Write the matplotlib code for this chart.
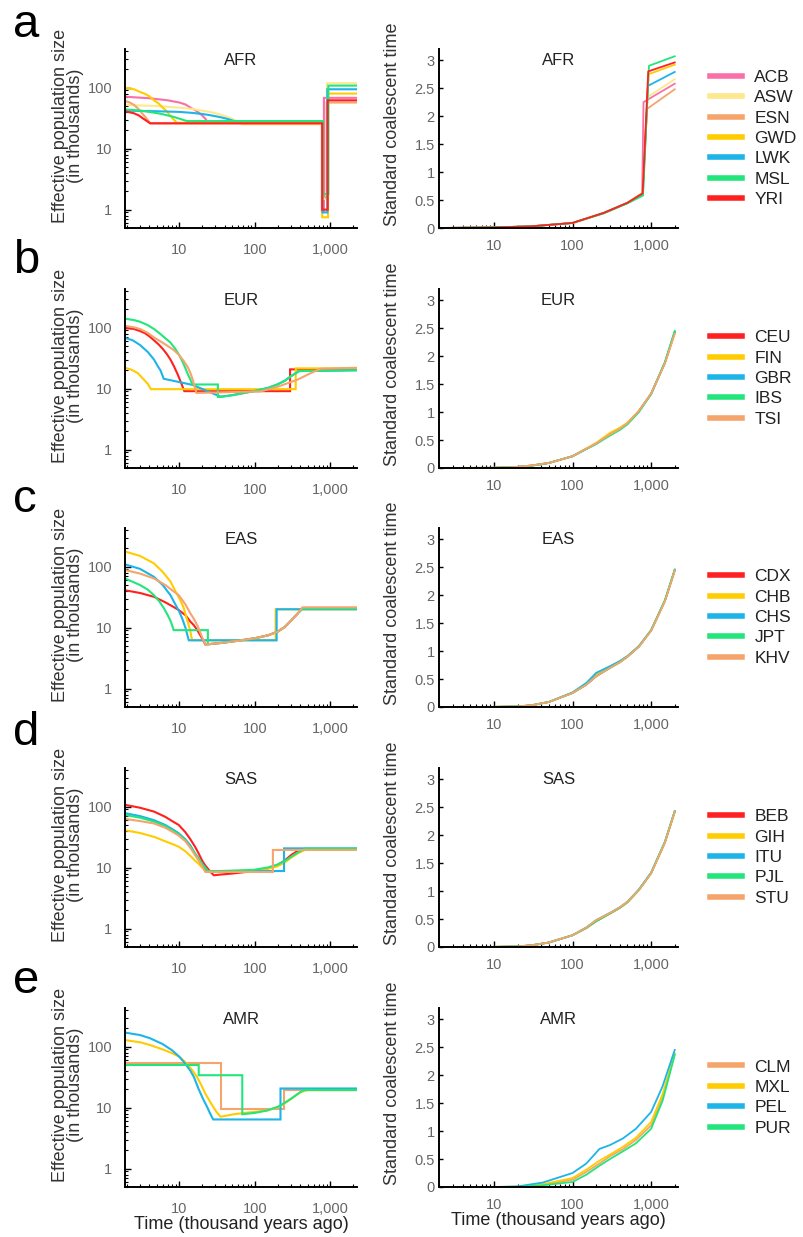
import matplotlib.pyplot as plt
import matplotlib.ticker as mticker

plt.rcParams['font.family'] = ['Liberation Sans', 'DejaVu Sans']

RED = '#ff2020'
GOLD = '#ffcc00'
BLUE = '#1db4e8'
GREEN = '#22e67c'
ORANGE = '#f5a46c'
PINK = '#fb6fa8'
PALE = '#fde98b'

# ---- effective population size (time kya, Ne in thousands) ----
AFR_NE = {
    "ACB": ([1.9, 4, 7, 10, 12, 14, 16, 18, 20, 22, 24, 770, 770, 820, 820, 2250],
            [71, 67, 62, 57, 53, 47, 43, 39, 35, 31, 26.5, 26.5, 0.95, 0.95, 68, 68]),
    "ASW": ([1.9, 5, 10, 15, 20, 28, 35, 42, 50, 58, 68, 780, 780, 900, 900, 2250],
            [52, 50, 47, 44.5, 42, 39, 36, 33.5, 31, 28, 25, 25, 1.5, 1.5, 118, 118]),
    "ESN": ([1.9, 2.2, 2.5, 2.8, 3.2, 3.6, 4.1, 775, 775, 890, 890, 2250],
            [60, 57, 52, 46, 38, 32, 26, 26, 1.6, 1.6, 57, 57]),
    "GWD": ([1.9, 2.5, 3, 3.5, 4, 4.6, 5.3, 6, 6.8, 7.5, 8.4, 9.3, 780, 780, 930, 930, 2250],
            [100, 94, 85, 79, 72, 62, 55, 47, 41, 35, 30, 26.5, 26.5, 0.75, 0.75, 80, 80]),
    "LWK": ([1.9, 5, 10, 15, 20, 25, 30, 36, 42, 48, 53, 785, 785, 910, 910, 2250],
            [42, 41, 40, 38.5, 37, 35.5, 34, 32.5, 31, 29.5, 28.3, 28.3, 0.9, 0.9, 94, 94]),
    "MSL": ([1.9, 3, 4, 5.5, 7, 8.5, 10, 11.3, 12.6, 790, 790, 940, 940, 2250],
            [44, 42, 40, 37.5, 35, 33, 31, 29.5, 28.3, 28.3, 1.8, 1.8, 108, 108]),
    "YRI": ([1.9, 2.5, 2.9, 3.2, 3.6, 4.1, 780, 780, 920, 920, 2250],
            [41, 38, 35, 32, 29, 26, 26, 1.0, 1.0, 62, 62]),
}
EUR_NE = {
    "CEU": ([1.9, 2.5, 3, 3.5, 4, 4.6, 5.3, 6, 6.8, 7.6, 8.5, 9.5, 10.5, 11.6, 292, 292, 2250],
            [100, 95, 88, 81, 72, 62, 53, 45, 37, 30, 23, 17, 12.5, 9.1, 9.1, 20.7, 20.7]),
    "FIN": ([1.9, 2.3, 2.8, 3.3, 3.8, 4.2, 347, 347, 2250],
            [22, 20.5, 18, 14.5, 12, 9.8, 9.8, 21.5, 21.5]),
    "GBR": ([1.9, 2.4, 3, 3.8, 4.6, 5.2, 5.6, 6.2, 15, 30, 35, 50, 97, 150, 198, 250, 300, 385, 2250],
            [68, 62, 52, 40, 30, 23, 20, 14.5, 11.5, 8.0, 7.4, 7.8, 9.1, 10.3, 11.7, 13.5, 16, 19.4, 20]),
    "IBS": ([1.9, 2.5, 3, 3.8, 4.6, 5.5, 6.5, 7.6, 8.8, 10, 11.4, 13, 14, 14.8, 32.3, 32.3,
             35, 50, 97, 150, 198, 250, 300, 385, 2250],
            [140, 133, 125, 110, 95, 80, 67, 57, 45, 35, 25, 17, 14, 11.7, 11.7, 7.3,
             7.3, 7.8, 9.1, 10.3, 11.7, 13.5, 16, 19.4, 20]),
    "TSI": ([1.9, 2.5, 3, 3.8, 4.6, 5.8, 7, 8.4, 9.8, 11.5, 13, 14, 15, 16, 16.8,
             119, 198, 365, 550, 740, 2250],
            [107, 101, 95, 82, 69, 58, 50, 43, 36, 28, 22, 18, 14, 10.5, 8.5,
             9.0, 10.7, 14, 18, 21.2, 22]),
}
EAS_NE = {
    "CDX": ([1.9, 3, 4.6, 6.5, 8, 9.8, 12, 14, 15.5, 17.5, 19.5, 22,
             35, 60, 100, 150, 200, 250, 300, 360, 427, 2250],
            [41, 37, 32, 26, 22.5, 19.4, 16, 12.5, 11, 8.8, 7, 5.3,
             5.6, 6.1, 6.7, 7.5, 8.6, 10.3, 13, 16.5, 21, 21]),
    "CHB": ([1.9, 3, 4.6, 6, 7.6, 9, 10.3, 11.4, 12.3, 13, 14, 14.7, 188, 188, 2250],
            [177, 150, 113, 82, 57, 38, 28, 21, 15, 12, 8.5, 6.2, 6.2, 20, 20]),
    "CHS": ([1.9, 3, 4.6, 6, 7.6, 9, 10, 10.9, 12, 13.3, 194, 194, 2250],
            [109, 92, 68, 50, 34, 23, 18, 14, 10, 6.2, 6.2, 20, 20]),
    "JPT": ([1.9, 3, 3.8, 4.6, 5.4, 6.2, 7, 7.7, 8.4, 23.8, 23.8,
             35, 60, 100, 150, 200, 250, 300, 360, 427, 2250],
            [64, 50, 42, 34, 27, 21, 16, 12.5, 9.1, 9.1, 5.3,
             5.6, 6.1, 6.7, 7.5, 8.6, 10.3, 13, 16.5, 20.5, 20.5]),
    "KHV": ([1.9, 3, 4.6, 6.5, 8, 9.8, 12, 14, 15.5, 17.5, 19.5, 22,
             35, 60, 100, 150, 200, 250, 300, 360, 427, 2250],
            [88, 77, 64, 50, 41, 34, 24, 17, 14, 10.5, 7.5, 5.3,
             5.6, 6.1, 6.7, 7.5, 8.6, 10.3, 13, 16.5, 21.5, 21.5]),
}
SAS_NE = {
    "BEB": ([1.9, 3, 4.6, 6.5, 8, 9.8, 12, 14, 16.1, 18, 20, 21.8, 24, 26, 28.6,
             35, 50, 97, 150, 198, 250, 300, 360, 427, 2250],
            [107, 96, 83, 68, 58, 50, 38, 29, 22, 17, 13, 11, 9.5, 8.4, 7.5,
             7.7, 8.0, 8.8, 9.8, 11, 13.2, 16, 18.5, 20, 20]),
    "GIH": ([1.9, 3, 4.6, 6.5, 8, 9.8, 12, 14, 16.1, 18, 20, 23.8,
             35, 97, 150, 198, 250, 300, 380, 460, 2250],
            [41, 37, 32, 27, 24.5, 22, 18.5, 15.5, 13, 11.5, 10, 8.5,
             8.5, 8.9, 9.6, 10.5, 12.2, 14.5, 17.5, 19.5, 19.5]),
    "ITU": ([1.9, 3, 4.6, 6.5, 8, 9.8, 12, 14, 16.1, 18, 20, 22.8, 243, 243, 2250],
            [78, 70, 60, 50, 43, 36.5, 29, 23, 17, 14, 11.5, 8.8, 8.8, 20.7, 20.7]),
    "PJL": ([1.9, 3, 4.6, 6.5, 8, 9.8, 12, 14, 16.1, 18, 20, 24,
             35, 97, 150, 198, 250, 300, 380, 460, 2250],
            [73, 66, 57, 48, 41, 35, 28, 22, 17, 14, 11.5, 8.8,
             8.8, 9.2, 10.1, 11.2, 12.9, 15, 18, 20.5, 20.5]),
    "STU": ([1.9, 3, 4.6, 6.5, 8, 9.8, 12, 14, 16.1, 18, 20, 22, 173, 173, 2250],
            [63, 58, 53, 45, 39, 33.5, 27, 21, 16, 13, 10.5, 8.5, 8.5, 19.5, 19.5]),
}
AMR_NE = {
    "CLM": ([1.9, 35, 35, 243, 243, 2250],
            [54.5, 54.5, 9.6, 9.6, 19.3, 19.3]),
    "MXL": ([1.9, 3, 4.1, 6, 8, 10, 12.5, 15, 17, 19, 22, 25, 28, 31, 35,
             53, 80, 146, 200, 243, 300, 350, 403, 500, 2250],
            [128, 118, 106, 90, 78, 68, 53, 40, 32, 25, 17, 13, 10.3, 8.5, 7.1,
             7.8, 8.3, 9.0, 10.2, 11.6, 13.8, 16, 18, 19.3, 19.3]),
    "PEL": ([1.9, 3, 4.1, 6, 8, 10, 12, 14, 15.5, 18, 20.5, 23.3, 25.5, 28, 218, 218, 2250],
            [170, 155, 137, 110, 87, 68, 52, 40, 32, 20, 14, 10.2, 8, 6.4, 6.4, 20.6, 20.6]),
    "PUR": ([1.9, 18, 18, 68, 68, 100, 146, 200, 243, 300, 350, 400, 450, 2250],
            [50, 50, 34, 34, 7.8, 8.2, 9.0, 10.3, 11.8, 14, 16, 18, 19.5, 19.5]),
}

# ---- standard coalescent time (time kya, tau) ----
AFR_TAU = {
    "ACB": ([2, 10, 30, 100, 250, 500, 770, 800, 2000], [0, 0.01, 0.03, 0.09, 0.27, 0.45, 0.62, 2.25, 2.58]),
    "ASW": ([2, 10, 30, 100, 250, 500, 780, 900, 2000], [0, 0.01, 0.03, 0.09, 0.27, 0.45, 0.62, 2.34, 2.66]),
    "ESN": ([2, 10, 30, 100, 250, 500, 775, 890, 2000], [0, 0.01, 0.03, 0.09, 0.27, 0.45, 0.62, 2.13, 2.48]),
    "GWD": ([2, 10, 30, 100, 250, 500, 780, 930, 2000], [0, 0.01, 0.03, 0.09, 0.27, 0.45, 0.62, 2.75, 2.92]),
    "LWK": ([2, 10, 30, 100, 250, 500, 785, 910, 2000], [0, 0.01, 0.03, 0.09, 0.27, 0.45, 0.60, 2.54, 2.79]),
    "MSL": ([2, 10, 30, 100, 250, 500, 790, 940, 2000], [0, 0.01, 0.03, 0.09, 0.26, 0.44, 0.58, 2.90, 3.07]),
    "YRI": ([2, 10, 30, 100, 250, 500, 780, 920, 2000], [0, 0.01, 0.03, 0.09, 0.27, 0.45, 0.62, 2.80, 2.96]),
}
EUR_T = [2, 10, 20, 30, 50, 100, 200, 300, 400, 500, 700, 1000, 1500, 2000]
EUR_TAU = {
    "CEU": (EUR_T, [0, 0.003, 0.02, 0.045, 0.09, 0.21, 0.44, 0.60, 0.70, 0.80, 1.02, 1.33, 1.88, 2.42]),
    "FIN": (EUR_T, [0, 0.004, 0.02, 0.045, 0.09, 0.21, 0.45, 0.63, 0.72, 0.81, 1.02, 1.33, 1.88, 2.41]),
    "GBR": (EUR_T, [0, 0.003, 0.02, 0.04, 0.09, 0.21, 0.43, 0.59, 0.69, 0.79, 1.01, 1.32, 1.89, 2.44]),
    "IBS": (EUR_T, [0, 0.003, 0.02, 0.04, 0.09, 0.21, 0.43, 0.58, 0.68, 0.78, 1.00, 1.32, 1.89, 2.45]),
    "TSI": (EUR_T, [0, 0.003, 0.02, 0.045, 0.09, 0.21, 0.44, 0.60, 0.70, 0.80, 1.02, 1.33, 1.87, 2.40]),
}
EAS_T = [2, 10, 20, 30, 50, 100, 150, 200, 300, 400, 500, 700, 1000, 1500, 2000]
EAS_TAU = {
    "CDX": (EAS_T, [0, 0.002, 0.01, 0.03, 0.09, 0.25, 0.40, 0.55, 0.70, 0.80, 0.90, 1.08, 1.37, 1.90, 2.45]),
    "CHB": (EAS_T, [0, 0.002, 0.01, 0.03, 0.09, 0.26, 0.42, 0.58, 0.72, 0.82, 0.91, 1.09, 1.37, 1.90, 2.44]),
    "CHS": (EAS_T, [0, 0.002, 0.01, 0.03, 0.09, 0.26, 0.43, 0.61, 0.73, 0.82, 0.91, 1.09, 1.37, 1.90, 2.44]),
    "JPT": (EAS_T, [0, 0.002, 0.01, 0.03, 0.09, 0.25, 0.40, 0.55, 0.70, 0.80, 0.90, 1.08, 1.37, 1.91, 2.46]),
    "KHV": (EAS_T, [0, 0.002, 0.01, 0.03, 0.09, 0.25, 0.40, 0.55, 0.70, 0.80, 0.90, 1.08, 1.36, 1.89, 2.44]),
}
SAS_T = [2, 10, 20, 30, 50, 100, 150, 200, 300, 400, 500, 700, 1000, 1500, 2000]
SAS_TAU = {
    "BEB": (SAS_T, [0, 0.002, 0.01, 0.03, 0.08, 0.21, 0.34, 0.46, 0.60, 0.70, 0.80, 1.02, 1.32, 1.87, 2.42]),
    "GIH": (SAS_T, [0, 0.002, 0.01, 0.03, 0.08, 0.21, 0.34, 0.46, 0.60, 0.70, 0.80, 1.02, 1.32, 1.87, 2.41]),
    "ITU": (SAS_T, [0, 0.002, 0.01, 0.03, 0.08, 0.21, 0.35, 0.48, 0.61, 0.71, 0.81, 1.03, 1.33, 1.88, 2.43]),
    "PJL": (SAS_T, [0, 0.002, 0.01, 0.03, 0.08, 0.21, 0.34, 0.46, 0.60, 0.70, 0.80, 1.02, 1.32, 1.88, 2.43]),
    "STU": (SAS_T, [0, 0.002, 0.01, 0.03, 0.08, 0.21, 0.35, 0.48, 0.61, 0.71, 0.81, 1.02, 1.32, 1.87, 2.42]),
}
AMR_T = [2, 10, 20, 42, 100, 150, 220, 300, 440, 640, 1000, 1400, 2000]
AMR_TAU = {
    "CLM": (AMR_T, [0, 0, 0.005, 0.04, 0.13, 0.27, 0.42, 0.55, 0.68, 0.84, 1.10, 1.60, 2.38]),
    "MXL": (AMR_T, [0, 0, 0.005, 0.05, 0.16, 0.31, 0.47, 0.58, 0.72, 0.88, 1.16, 1.66, 2.39]),
    "PEL": (AMR_T, [0, 0, 0.01, 0.08, 0.25, 0.42, 0.68, 0.75, 0.87, 1.04, 1.34, 1.80, 2.45]),
    "PUR": (AMR_T, [0, 0, 0.003, 0.03, 0.09, 0.22, 0.38, 0.50, 0.64, 0.78, 1.04, 1.54, 2.36]),
}

AFR_COLORS = [PINK, PALE, ORANGE, GOLD, BLUE, GREEN, RED]
PANELS = [
    ("a", "AFR", AFR_NE, AFR_TAU, AFR_COLORS),
    ("b", "EUR", EUR_NE, EUR_TAU, [RED, GOLD, BLUE, GREEN, ORANGE]),
    ("c", "EAS", EAS_NE, EAS_TAU, [RED, GOLD, BLUE, GREEN, ORANGE]),
    ("d", "SAS", SAS_NE, SAS_TAU, [RED, GOLD, BLUE, GREEN, ORANGE]),
    ("e", "AMR", AMR_NE, AMR_TAU, [ORANGE, GOLD, BLUE, GREEN]),
]

W, H = 804, 1237
ROW_TOPS = [49, 289, 528, 768, 1008]
LETTER_BASE = [37, 273, 512, 745, 993]
AX_H = 179
TICK_COLOR = '#666666'


def style_axis(ax, xpad):
    ax.spines['top'].set_visible(False)
    ax.spines['right'].set_visible(False)
    for s in ('left', 'bottom'):
        ax.spines[s].set_linewidth(1.4)
    ax.set_xscale('log')
    ax.xaxis.set_major_locator(mticker.FixedLocator([10, 100, 1000]))
    ax.xaxis.set_major_formatter(mticker.FixedFormatter(['10', '100', '1,000']))
    ax.xaxis.set_minor_locator(mticker.LogLocator(base=10, subs=range(2, 10)))
    ax.xaxis.set_minor_formatter(mticker.NullFormatter())
    ax.tick_params(axis='x', which='major', direction='in', length=4, width=1,
                   pad=xpad, labelsize=10.5, labelcolor=TICK_COLOR)
    ax.tick_params(axis='x', which='minor', direction='in', length=2.5, width=0.8)


fig = plt.figure(figsize=(W / 100, H / 100), dpi=100)

for i, (letter, region, ne, tau, colors) in enumerate(PANELS):
    top = ROW_TOPS[i]
    bottom = 1 - (top + AX_H) / H
    axl = fig.add_axes([125 / W, bottom, 232 / W, AX_H / H])
    axr = fig.add_axes([439 / W, bottom, 239 / W, AX_H / H])

    # left: effective population size
    for (pop, (t, n)), c in zip(ne.items(), colors):
        axl.plot(t, n, color=c, lw=1.5, solid_joinstyle='miter')
    style_axis(axl, 11)
    axl.set_yscale('log')
    axl.set_xlim(1.9, 2250)
    axl.set_ylim(0.5, 430)
    axl.yaxis.set_major_locator(mticker.FixedLocator([1, 10, 100]))
    axl.yaxis.set_major_formatter(mticker.FixedFormatter(['1', '10', '100']))
    axl.yaxis.set_minor_locator(mticker.LogLocator(base=10, subs=range(2, 10)))
    axl.yaxis.set_minor_formatter(mticker.NullFormatter())
    axl.tick_params(axis='y', which='major', direction='in', length=4, width=1,
                    pad=9, labelsize=10.5, labelcolor=TICK_COLOR)
    axl.tick_params(axis='y', which='minor', direction='in', length=2.5, width=0.8)
    axl.text(0.5, 0.935, region, transform=axl.transAxes, ha='center', va='center',
             fontsize=12, color='#222222')
    axl.set_ylabel('Effective population size\n(in thousands)', fontsize=13,
                   color='#333333', linespacing=0.9)
    axl.yaxis.set_label_coords(-0.175, 0.57)

    # right: standard coalescent time
    for (pop, (t, v)), c in zip(tau.items(), colors):
        axr.plot(t, v, color=c, lw=1.3, label=pop)
    style_axis(axr, 8)
    axr.set_xlim(2, 2200)
    axr.set_ylim(0, 3.2)
    axr.set_yticks([0, 0.5, 1, 1.5, 2, 2.5, 3])
    axr.set_yticklabels(['0', '0.5', '1', '1.5', '2', '2.5', '3'])
    axr.tick_params(axis='y', direction='in', length=3, width=1, pad=3,
                    labelsize=10.5, labelcolor=TICK_COLOR)
    axr.text(0.5, 0.935, region, transform=axr.transAxes, ha='center', va='center',
             fontsize=12, color='#222222')
    axr.set_ylabel('Standard coalescent time', fontsize=13, color='#333333')
    axr.yaxis.set_label_coords(-0.16, 0.58)

    leg = axr.legend(loc='center left', bbox_to_anchor=((710 - 439) / 239, 0.5),
                     frameon=False, fontsize=12.5, handlelength=1.85,
                     handletextpad=0.7, labelspacing=0.3, borderpad=0,
                     borderaxespad=0)
    for ln in leg.get_lines():
        ln.set_linewidth(4)
    for tx in leg.get_texts():
        tx.set_color('#222222')

    if i == len(PANELS) - 1:
        for ax in (axl, axr):
            ax.set_xlabel('Time (thousand years ago)', fontsize=13,
                          color='#222222', labelpad=0)

    fig.text(13 / W, 1 - LETTER_BASE[i] / H, letter, fontsize=34,
             va='baseline', ha='left', color='black')

fig.savefig('out.png', dpi=100)
